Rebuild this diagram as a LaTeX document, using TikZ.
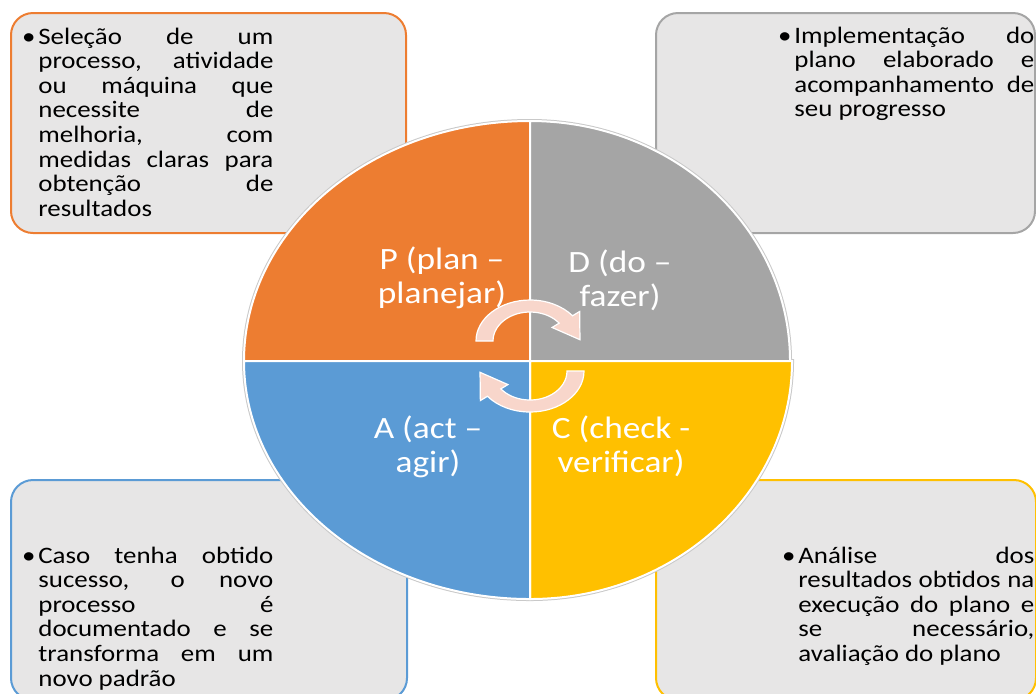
\documentclass[tikz,border=0pt]{standalone}
\usepackage{fontspec}
\setmainfont{Carlito}[FakeStretch=1.14]
\usepackage{tikz}
\definecolor{planOrange}{HTML}{ED7D31}
\definecolor{doGray}{HTML}{A5A5A5}
\definecolor{checkGold}{HTML}{FFC000}
\definecolor{actBlue}{HTML}{5B9BD5}
\definecolor{boxFill}{HTML}{E7E6E6}
\definecolor{arrowPink}{HTML}{F8D6CB}
\definecolor{rimGray}{HTML}{C9C9C9}

\begin{document}
\begin{tikzpicture}[x=0.5pt, y=-0.5pt,
  boxframe/.style={rectangle, rounded corners=11pt, fill=boxFill, line width=1pt, anchor=north west, inner sep=0pt, minimum height=110pt},
  boxtext/.style={anchor=base west, inner sep=0pt, align=justify, font=\fontsize{11.8}{12.3}\selectfont},
  quadrant/.style={draw=white, line width=1pt},
  phase/.style={anchor=base, inner sep=0pt, align=center, text=white, font=\fontsize{15.5}{17}\selectfont},
  cyclearrow/.style={fill=arrowPink, draw=white, line width=0.6pt},
]
  \useasboundingbox (0,0) rectangle (1036,693);

  % corner boxes
  \node[boxframe, draw=planOrange, minimum width=197.5pt] (planbox) at (10,12) {};
  \node[boxframe, draw=doGray, minimum width=189.5pt] (dobox) at (655,12) {};
  \node[boxframe, draw=actBlue, minimum width=198pt] (actbox) at (10,479) {};
  \node[boxframe, draw=checkGold, minimum width=190pt] (checkbox) at (655,479) {};

  \node[boxtext, text width=117.5pt] (plantext) at (38,44)
    {\leavevmode\llap{•\hspace{1.5pt}}Seleção de um\linebreak processo, atividade\linebreak ou máquina que\linebreak necessite de\linebreak melhoria, com\linebreak medidas claras para\linebreak obtenção de\linebreak resultados};
  \node[boxtext, text width=120pt] (dotext) at (794,43)
    {\leavevmode\llap{•\hspace{1.5pt}}Implementação do\linebreak plano elaborado e\linebreak acompanhamento de\linebreak seu progresso};
  \node[boxtext, text width=117.5pt] (acttext) at (38,563)
    {\leavevmode\llap{•\hspace{1.5pt}}Caso tenha obtido\linebreak sucesso, o novo\linebreak processo é\linebreak documentado e se\linebreak transforma em um\linebreak novo padrão};
  \node[boxtext, text width=118pt] (checktext) at (798,563)
    {\leavevmode\llap{•\hspace{1.5pt}}Análise dos\linebreak resultados obtidos na\linebreak execução do plano e\linebreak se necessário,\linebreak avaliação do plano};

  % the cycle
  \coordinate (hub) at (530,361);
  \draw[rimGray, line width=2pt] (244,361)
    arc[start angle=180, end angle=270, x radius=286, y radius=240]
    arc[start angle=270, end angle=360, x radius=260, y radius=240] -- (792,361)
    arc[start angle=0, end angle=90, x radius=262, y radius=238]
    arc[start angle=90, end angle=180, x radius=286, y radius=238] -- cycle;
  \filldraw[quadrant, fill=planOrange] (hub) -- (244,361)
    arc[start angle=180, end angle=270, x radius=286, y radius=240] -- cycle;
  \filldraw[quadrant, fill=doGray] (hub) -- (530,121)
    arc[start angle=270, end angle=360, x radius=260, y radius=240] -- cycle;
  \filldraw[quadrant, fill=checkGold] (hub) -- (792,361)
    arc[start angle=0, end angle=90, x radius=262, y radius=238] -- cycle;
  \filldraw[quadrant, fill=actBlue] (hub) -- (530,599)
    arc[start angle=90, end angle=180, x radius=286, y radius=238] -- cycle;

  \node[phase] (plabel) at (442,303) {P (plan –\\planejar)};
  \node[phase] (dlabel) at (620,306) {D (do –\\fazer)};
  \node[phase] (alabel) at (428,472) {A (act –\\agir)};
  \node[phase] (clabel) at (621,472) {C (check -\\verificar)};

  % arrows round the hub
  \begin{scope}[shift={(530,341)}]
    \filldraw[cyclearrow] (180:54 and 41)
      arc[start angle=180, end angle=322, x radius=54, y radius=41]
      -- (322:63 and 48) -- (358:50 and 37) -- (322:28 and 22) -- (322:37 and 29)
      arc[start angle=322, end angle=180, x radius=37, y radius=29] -- cycle;
  \end{scope}
  \begin{scope}[shift={(530,371)}]
    \filldraw[cyclearrow] (0:54 and 41)
      arc[start angle=0, end angle=142, x radius=54, y radius=41]
      -- (142:63 and 48) -- (178:50 and 37) -- (142:28 and 22) -- (142:37 and 29)
      arc[start angle=142, end angle=0, x radius=37, y radius=29] -- cycle;
  \end{scope}
\end{tikzpicture}
\end{document}
